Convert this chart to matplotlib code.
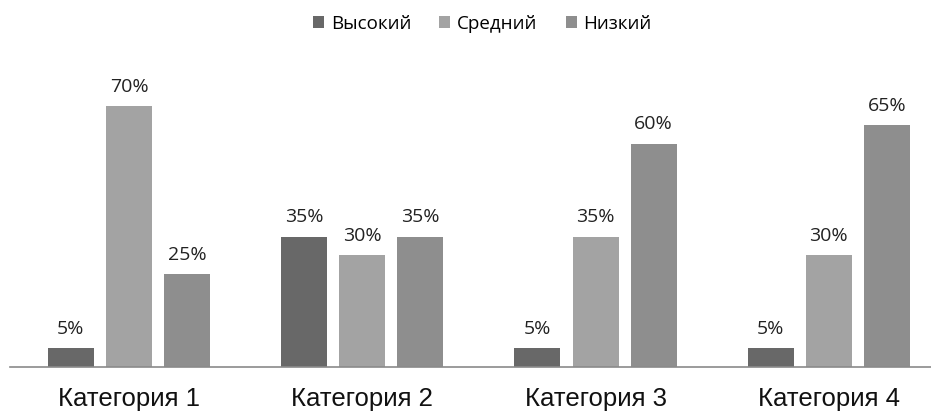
import matplotlib.pyplot as plt
import numpy as np

categories = ["Категория 1", "Категория 2", "Категория 3", "Категория 4"]
series_names = ["Высокий", "Средний", "Низкий"]
high = [5, 35, 5, 5]
medium = [70, 30, 35, 30]
low = [25, 35, 60, 65]
colors = ["#686868", "#a3a3a3", "#8e8e8e"]

fig = plt.figure(figsize=(9.31, 4.12), dpi=100)
ax = fig.add_axes([10 / 931, 0.109, 921 / 931, 0.723])

x = np.arange(len(categories))
w = 0.197
step = 0.249
for i, (name, vals) in enumerate(zip(series_names, [high, medium, low])):
    bars = ax.bar(x + (i - 1) * step, vals, width=w, color=colors[i], label=name)
    for b, v in zip(bars, vals):
        ax.text(b.get_x() + b.get_width() / 2, v + 2.8, f"{v}%", ha="center", va="bottom",
                fontsize=14, family="Open Sans", color="#222222")

ax.set_xlim(-0.510, 3.438)
ax.set_ylim(0, 80)
ax.set_yticks([])
ax.set_xticks(x)
ax.set_xticklabels(categories, fontsize=18.5, family="Liberation Sans", color="#111111")
ax.tick_params(axis="x", length=0, pad=14)
for s in ["top", "right", "left"]:
    ax.spines[s].set_visible(False)
ax.spines["bottom"].set_color("#8a8a8a")
ax.spines["bottom"].set_linewidth(1.2)

fig.legend(loc="upper center", bbox_to_anchor=(0.518, 1.005), ncol=3, frameon=False,
           prop={"family": "Open Sans", "size": 13.5}, handlelength=0.6, handleheight=0.6,
           handletextpad=0.35, columnspacing=1.5)

fig.savefig("out.png", dpi=100)
